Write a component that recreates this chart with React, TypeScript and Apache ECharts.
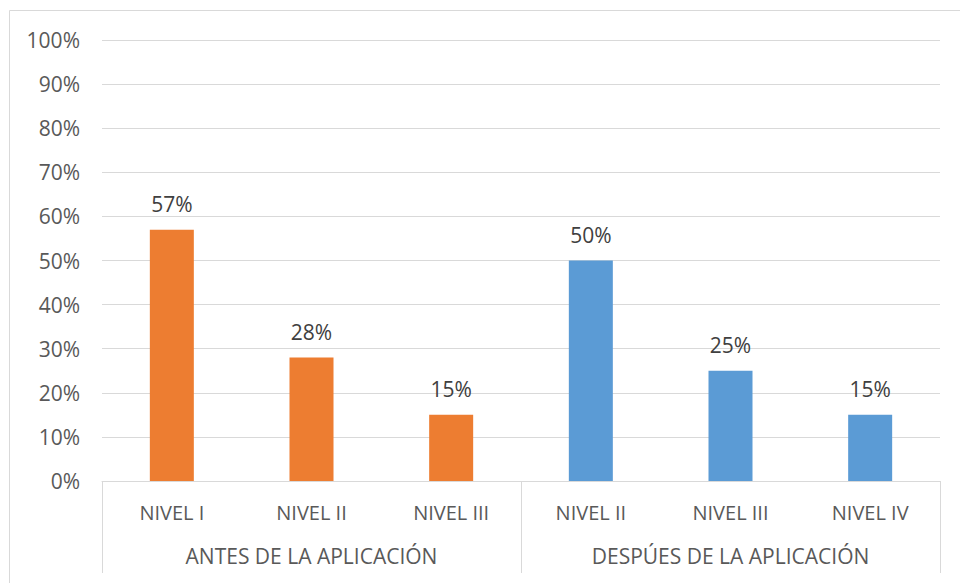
import React, { useEffect, useRef } from "react";
import * as echarts from "echarts";

const categories = ["NIVEL I", "NIVEL II", "NIVEL III", "NIVEL II", "NIVEL III", "NIVEL IV"];
const groups = ["ANTES DE LA APLICACIÓN", "DESPÚES DE LA APLICACIÓN"];
const values = [57, 28, 15, 50, 25, 15];
const groupOfBar = [0, 0, 0, 1, 1, 1];
const groupColors = ["#ED7D31", "#5B9BD5"];

const FONT = "'Open Sans', 'Noto Sans', sans-serif";

export default function App() {
  const ref = useRef<HTMLDivElement>(null);
  useEffect(() => {
    if (!ref.current) return;
    const chart = echarts.init(ref.current, undefined, { renderer: "svg" });
    chart.setOption({
      animation: false,
      backgroundColor: "#ffffff",
      textStyle: { fontFamily: FONT },
      graphic: [
        {
          type: "rect",
          shape: { x: 9.5, y: 10.5, width: 1000, height: 700 },
          style: { fill: "none", stroke: "#D9D9D9", lineWidth: 1 },
          silent: true,
        },
      ],
      grid: { left: 102, right: 20, top: 40, bottom: 102, containLabel: false },
      xAxis: [
        {
          type: "category",
          data: categories,
          position: "bottom",
          axisLine: { show: true, lineStyle: { color: "#D9D9D9", width: 1 } },
          axisTick: { show: false },
          axisLabel: { color: "#595959", fontSize: 20, margin: 21, fontFamily: FONT, interval: 0 },
        },
        {
          type: "category",
          data: groups,
          position: "bottom",
          axisLine: { show: false },
          axisTick: { show: true, length: 92, lineStyle: { color: "#D9D9D9", width: 1 } },
          axisLabel: { color: "#595959", fontSize: 21, margin: 64, fontFamily: FONT, interval: 0 },
        },
      ],
      yAxis: {
        type: "value",
        min: 0,
        max: 100,
        interval: 10,
        axisLine: { show: false },
        axisTick: { show: false },
        axisLabel: { formatter: "{value}%", color: "#595959", fontSize: 21, margin: 22, fontFamily: FONT },
        splitLine: { lineStyle: { color: "#D9D9D9", width: 1 } },
      },
      series: [
        {
          type: "bar",
          xAxisIndex: 0,
          barWidth: 44,
          data: values.map((v, i) => ({ value: v, itemStyle: { color: groupColors[groupOfBar[i]] } })),
          label: {
            show: true,
            position: "top",
            distance: 15,
            formatter: "{c}%",
            color: "#404040",
            fontSize: 21,
            fontFamily: FONT,
          },
        },
      ],
    });
    return () => chart.dispose();
  }, []);
  return (
    <div
      ref={ref}
      style={{ position: "fixed", left: 0, top: 0, width: 960, height: 583 }}
    />
  );
}
